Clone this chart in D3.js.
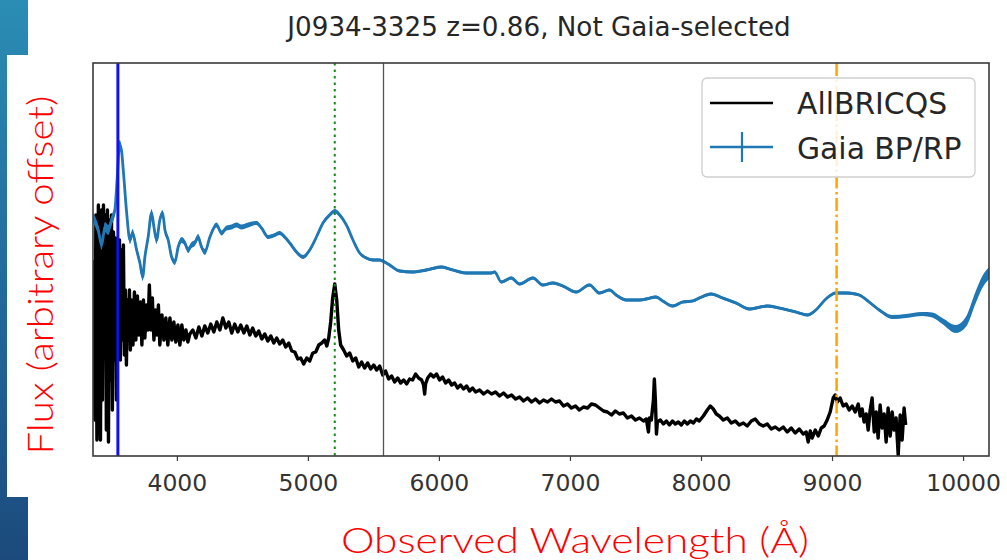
<!DOCTYPE html>
<html><head><meta charset="utf-8">
<script src="https://cdn.jsdelivr.net/npm/d3@7"></script>
<style>html,body{margin:0;padding:0;background:#fff;}svg{display:block;}</style>
</head><body>
<svg id="c" width="1007" height="560"></svg>
<script>
// ---------- DATA ----------
const titleText = "J0934-3325 z=0.86, Not Gaia-selected";
const xTicks = [4000, 5000, 6000, 7000, 8000, 9000, 10000];
const xDomain = [3360, 10198];
const yDomain = [0, 3.93];
const seriesNames = ["AllBRICQS", "Gaia BP/RP"];
// vertical marker lines: CIII] 1909, MgII 2798, sky 5577, Hbeta 4861 (observed, z=0.86)
const markerWaves = [3550, 5205, 5577, 9035];

const allbricqsWave = [3364,3375,3382,3390,3401,3409,3417,3424,3432,3440,3447,3455,3462,3470,3478,3485,3493,3501,3508,3516,3523,3531,3539,3546,3554,3562,3569,3577,3585,3592,3600,3607,3615,3623,3630,3638,3645,3653,3665,3676,3687,3699,3710,3722,3733,3745,3756,3767,3779,3790,3802,3813,3825,3836,3848,3859,3870,3886,3901,3916,3931,3947,3962,3977,3992,4008,4023,4038,4053,4069,4084,4099,
4122,4145,4168,4191,4213,4236,4259,4282,4305,4328,4351,4374,4396,4419,4442,4465,4488,4511,4534,4557,4579,4602,4625,4648,4671,4694,4717,4740,4762,4785,4808,4831,4854,4877,4900,4923,4945,4968,4991,5014,5037,5060,5083,5106,5128,5144,5159,5174,5189,5205,5220,5235,5250,5273,5296,5319,5342,5365,5388,5410,5433,5456,5479,5502,5525,5548,5571,5593,5616,5639,5662,5685,5708,5731,5754,5776,5799,5822,5845,5868,5883,5891,5898,5914,5937,5959,5982,6005,6028,6051,6074,6097,6120,6142,6165,6188,6211,6234,6257,6280,6310,6341,6371,6402,6432,6463,6493,6524,6554,6585,6615,6646,6676,6707,6737,6768,6798,6829,6859,6890,6920,6951,6981,7011,7042,7072,7103,7134,7164,7195,7225,7256,7286,7317,7347,7377,7408,7438,7469,7500,7530,7561,7583,7599,7606,7621,7637,7644,7652,7660,7667,7690,7713,7736,7759,7782,7804,7827,7850,7873,7896,7919,7942,7965,7987,8018,8048,8071,8094,8117,8140,8170,8201,8231,8262,8292,8323,8353,8384,8414,8445,8475,8506,8536,8567,8597,8628,8658,8689,8719,8750,8780,8803,8818,8834,8849,8872,8895,8918,8940,8963,8986,9009,9024,9040,9062,9085,9108,9131,9154,9177,9200,9215,9230,9245,9261,9276,9291,9306,9322,9337,9352,9367,9383,9398,9413,9428,9444,9459,9474,9489,9505,9520,9535,9550,9562];
const allbricqsFlux = [1.96,0.36,2.41,0.16,2.51,0.76,0.16,2.46,0.56,2.51,1.06,2.41,0.26,2.46,0.14,2.36,0.76,2.41,0.46,2.24,0.96,2.18,0.56,2.16,1.26,2.16,0.96,2.06,1.16,2.11,1.01,1.66,0.91,1.56,1.16,1.66,1.06,1.56,1.11,1.64,1.16,1.60,1.21,1.54,1.11,1.56,1.18,1.51,1.26,1.71,1.26,1.58,1.16,1.46,1.21,1.51,1.11,1.41,1.16,1.38,1.11,1.38,1.16,1.34,1.14,1.31,1.11,1.31,1.16,1.26,1.14,1.22,
1.26,1.18,1.29,1.20,1.30,1.23,1.32,1.24,1.34,1.26,1.38,1.28,1.34,1.23,1.32,1.24,1.31,1.23,1.30,1.21,1.28,1.20,1.25,1.17,1.22,1.15,1.20,1.13,1.18,1.12,1.16,1.09,1.13,1.05,1.04,0.97,0.98,0.92,0.98,0.95,1.03,1.04,1.11,1.13,1.16,1.10,1.18,1.34,1.58,1.72,1.56,1.26,1.11,1.06,1.00,1.03,0.95,0.98,0.89,0.94,0.88,0.93,0.87,0.91,0.86,0.90,0.81,0.85,0.77,0.80,0.74,0.78,0.73,0.76,0.72,0.77,0.76,0.82,0.78,0.76,0.71,0.62,0.72,0.78,0.82,0.79,0.82,0.76,0.79,0.73,0.76,0.71,0.73,0.68,0.71,0.67,0.70,0.65,0.68,0.64,0.66,0.62,0.65,0.62,0.64,0.60,0.63,0.59,0.61,0.57,0.59,0.55,0.58,0.54,0.57,0.53,0.56,0.54,0.57,0.54,0.55,0.50,0.52,0.48,0.50,0.46,0.49,0.48,0.52,0.51,0.48,0.45,0.44,0.41,0.45,0.42,0.43,0.38,0.40,0.36,0.38,0.35,0.37,0.24,0.38,0.36,0.56,0.77,0.56,0.22,0.34,0.36,0.32,0.35,0.31,0.35,0.32,0.34,0.31,0.35,0.32,0.35,0.33,0.37,0.35,0.40,0.46,0.50,0.47,0.42,0.40,0.36,0.38,0.33,0.35,0.31,0.33,0.30,0.35,0.37,0.32,0.30,0.32,0.27,0.29,0.26,0.29,0.24,0.28,0.23,0.27,0.22,0.24,0.14,0.25,0.18,0.26,0.20,0.28,0.30,0.36,0.44,0.58,0.61,0.54,0.58,0.50,0.52,0.46,0.50,0.44,0.52,0.40,0.47,0.34,0.42,0.26,0.46,0.58,0.24,0.44,0.18,0.51,0.28,0.42,0.14,0.48,0.20,0.44,0.26,0.38,0.01,0.41,0.16,0.48,0.31];

const gaiaWave = [3362,3400,3426,3451,3476,3502,3527,3546,3562,3577,3591,3617,3642,3662,3693,3718,3739,3756,3781,3807,3825,3845,3870,3891,3909,3934,3960,3985,4010,4036,4061,4086,4112,4137,4162,4188,4214,4252,4303,4341,4379,4417,4455,4493,4544,4608,4646,4696,4747,4785,4823,4862,4913,4963,5014,5065,5115,5166,5205,5243,5294,5344,5395,5446,5497,5548,5586,5624,5700,5802,5904,6018,6107,6209,6310,6399,6425,6476,6552,6615,6717,6793,6869,6945,7047,7149,7225,7301,7352,7429,7530,7581,7657,7708,7784,7860,7936,7987,8077,8165,8267,8369,8420,8508,8597,8725,8813,8877,8953,9030,9106,9207,9283,9360,9461,9563,9690,9766,9842,9944,10021,10097,10147,10185,10200];
const gaiaFlux = [2.38,2.26,2.11,2.29,2.26,2.36,2.46,2.81,3.11,3.06,2.86,2.43,2.16,2.23,2.06,1.93,1.79,1.99,2.19,2.43,2.29,2.16,2.36,2.43,2.26,2.16,1.99,1.94,2.09,2.16,2.13,2.06,2.11,2.13,2.19,2.09,2.04,2.19,2.31,2.23,2.28,2.29,2.31,2.29,2.31,2.33,2.28,2.19,2.21,2.23,2.19,2.13,2.04,1.99,2.06,2.19,2.33,2.41,2.45,2.41,2.31,2.16,2.03,1.98,1.96,1.96,1.94,1.91,1.85,1.84,1.86,1.89,1.86,1.83,1.83,1.83,1.84,1.74,1.78,1.72,1.78,1.71,1.73,1.70,1.64,1.71,1.63,1.66,1.61,1.56,1.56,1.57,1.59,1.55,1.50,1.54,1.55,1.58,1.62,1.58,1.53,1.47,1.48,1.50,1.48,1.44,1.41,1.46,1.57,1.63,1.63,1.61,1.54,1.46,1.39,1.40,1.42,1.41,1.35,1.27,1.34,1.59,1.74,1.81,1.83];
const gaiaErr = [0.05,0.05,0.05,0.05,0.05,0.05,0.05,0.05,0.05,0.05,0.04,0.04,0.04,0.04,0.04,0.04,0.04,0.04,0.04,0.04,0.04,0.04,0.04,0.03,0.03,0.03,0.03,0.03,0.03,0.03,0.03,0.03,0.03,0.03,0.03,0.03,0.03,0.025,0.025,0.025,0.025,0.025,0.025,0.025,0.025,0.02,0.02,0.02,0.02,0.02,0.02,0.02,0.02,0.02,0.02,0.02,0.02,0.02,0.02,0.02,0.015,0.015,0.015,0.015,0.015,0.015,0.015,0.015,0.015,0.015,0.015,0.015,0.015,0.015,0.015,0.015,0.015,0.015,0.015,0.015,0.015,0.015,0.015,0.015,0.015,0.015,0.015,0.015,0.015,0.015,0.015,0.015,0.015,0.015,0.015,0.015,0.015,0.015,0.015,0.015,0.015,0.015,0.015,0.015,0.015,0.015,0.015,0.015,0.015,0.015,0.015,0.015,0.015,0.015,0.02,0.02,0.02,0.025,0.03,0.04,0.05,0.06,0.06,0.06,0.06];

// ---------- DRAW ----------
const svg = d3.select("#c");
const W = 1007, H = 560;
const plot = {left: 93, right: 989, top: 63, bottom: 456};

const defs = svg.append("defs");
const grad = defs.append("linearGradient").attr("id","bg").attr("x1",0).attr("y1",0).attr("x2",0).attr("y2",1);
grad.append("stop").attr("offset","0%").attr("stop-color","#2b8db4");
grad.append("stop").attr("offset","55%").attr("stop-color","#22679a");
grad.append("stop").attr("offset","100%").attr("stop-color","#1c4a7c");
defs.append("clipPath").attr("id","clip").append("rect")
  .attr("x",plot.left).attr("y",plot.top).attr("width",plot.right-plot.left).attr("height",plot.bottom-plot.top);

svg.append("rect").attr("width",W).attr("height",H).attr("fill","#fff");
svg.append("rect").attr("x",0).attr("y",0).attr("width",28).attr("height",H).attr("fill","url(#bg)");
svg.append("rect").attr("x",7).attr("y",55).attr("width",21).attr("height",442).attr("fill","#fff");

const x = d3.scaleLinear().domain(xDomain).range([plot.left, plot.right]);
const y = d3.scaleLinear().domain(yDomain).range([plot.bottom, plot.top]);

const g = svg.append("g").attr("clip-path","url(#clip)");

// AllBRICQS
const black = allbricqsWave.map((w,i)=>[w, allbricqsFlux[i]]);
g.append("path").datum(black)
  .attr("d", d3.line().x(d=>x(d[0])).y(d=>y(d[1])))
  .attr("fill","none").attr("stroke","#000").attr("stroke-width",3.4)
  .attr("stroke-linejoin","round");

// Gaia with error band
const gaia = gaiaWave.map((w,i)=>[w, gaiaFlux[i], gaiaErr[i]]);
g.append("path").datum(gaia)
  .attr("d", d3.area().curve(d3.curveMonotoneX).x(d=>x(d[0])).y0(d=>y(d[1]-d[2])).y1(d=>y(d[1]+d[2])))
  .attr("fill","#1f77b4");
g.append("path").datum(gaia)
  .attr("d", d3.line().curve(d3.curveMonotoneX).x(d=>x(d[0])).y(d=>y(d[1])))
  .attr("fill","none").attr("stroke","#1f77b4").attr("stroke-width",2.8);

// vertical markers
const mk = [
  {stroke:"#1010f0", w:3, dash:null},
  {stroke:"#138a13", w:2, dash:"2.5,4"},
  {stroke:"#555", w:1.3, dash:null},
  {stroke:"#ffa500", w:2.5, dash:"13,3.5,2.5,3.5"}
];
markerWaves.forEach((wv,i)=>{
  const l = g.append("line").attr("x1",x(wv)).attr("x2",x(wv)).attr("y1",plot.top).attr("y2",plot.bottom)
    .attr("stroke",mk[i].stroke).attr("stroke-width",mk[i].w);
  if (mk[i].dash) l.attr("stroke-dasharray",mk[i].dash);
});

// frame
svg.append("rect").attr("x",plot.left).attr("y",plot.top).attr("width",plot.right-plot.left).attr("height",plot.bottom-plot.top)
  .attr("fill","none").attr("stroke","#3a3a3a").attr("stroke-width",1.6);

// x axis
const ax = svg.append("g").attr("transform",`translate(0,${plot.bottom})`)
  .call(d3.axisBottom(x).tickValues(xTicks).tickSize(5).tickPadding(13).tickFormat(d3.format("d")));
ax.select(".domain").remove();
ax.selectAll(".tick line").attr("stroke","#3a3a3a").attr("stroke-width",1.2);
ax.selectAll(".tick text").attr("font-family","DejaVu Sans").attr("font-size",23.5).attr("fill","#333");

// title
svg.append("text").attr("x",539).attr("y",36).attr("text-anchor","middle")
  .attr("font-family","DejaVu Sans").attr("font-size",26.2).attr("fill","#262626").text(titleText);

// legend
const lg = svg.append("g");
lg.append("rect").attr("x",702).attr("y",78).attr("width",273).attr("height",99).attr("rx",5)
  .attr("fill","#fff").attr("fill-opacity",0.85).attr("stroke","#cfcfcf").attr("stroke-width",1.3);
lg.append("line").attr("x1",710).attr("x2",773).attr("y1",103).attr("y2",103).attr("stroke","#000").attr("stroke-width",2.6);
lg.append("line").attr("x1",710).attr("x2",773).attr("y1",147).attr("y2",147).attr("stroke","#1f77b4").attr("stroke-width",2.6);
lg.append("line").attr("x1",742).attr("x2",742).attr("y1",132).attr("y2",162).attr("stroke","#1f77b4").attr("stroke-width",2.2);
lg.append("text").attr("x",797).attr("y",114).attr("font-family","DejaVu Sans").attr("font-size",29.8).attr("fill","#262626").text(seriesNames[0]);
lg.append("text").attr("x",797).attr("y",159).attr("font-family","DejaVu Sans").attr("font-size",29.8).attr("fill","#262626").text(seriesNames[1]);

// axis labels (slide text)
svg.append("text").attr("transform","translate(53,275) rotate(-90)").attr("text-anchor","middle")
  .attr("font-family","Lato, 'Open Sans', sans-serif").attr("font-weight",300).attr("font-size",35).attr("fill","#ff0000")
  .attr("textLength",359).attr("lengthAdjust","spacingAndGlyphs").text("Flux (arbitrary offset)");
svg.append("text").attr("x",575).attr("y",553).attr("text-anchor","middle")
  .attr("font-family","Lato, 'Open Sans', sans-serif").attr("font-weight",300).attr("font-size",35).attr("fill","#ff0000")
  .attr("textLength",468).attr("lengthAdjust","spacingAndGlyphs").text("Observed Wavelength (Å)");
</script>
</body></html>
